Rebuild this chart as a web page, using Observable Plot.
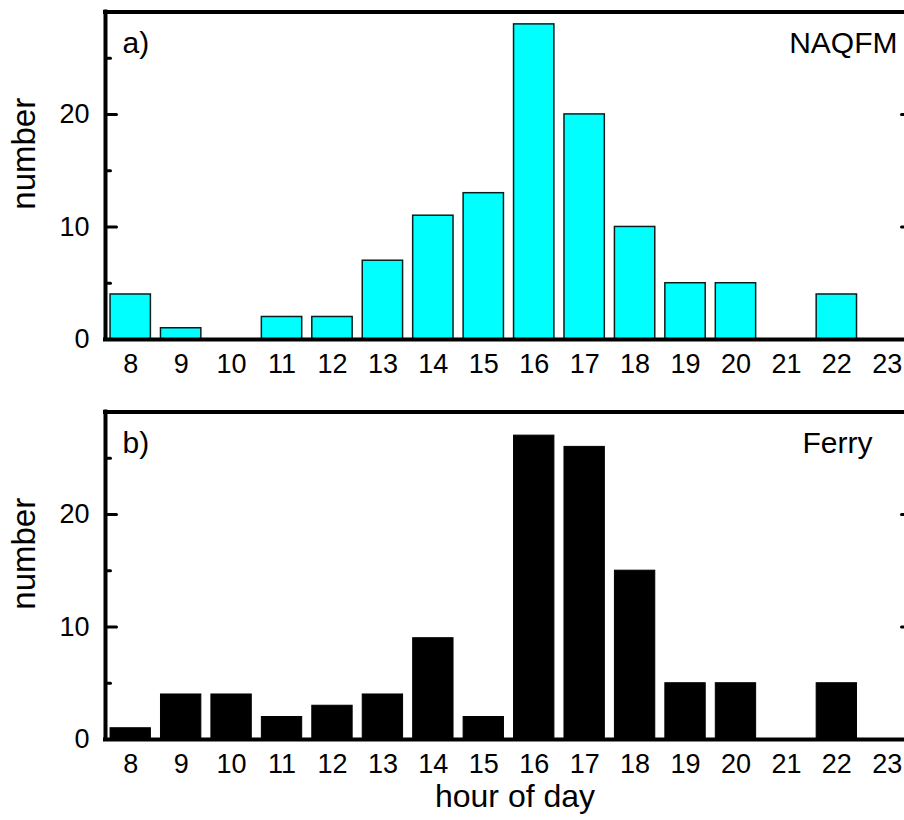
<!DOCTYPE html>
<html>
<head>
<meta charset="utf-8">
<script src="https://cdn.jsdelivr.net/npm/d3@7"></script>
<script src="https://cdn.jsdelivr.net/npm/@observablehq/plot@0.6"></script>
<style>
  html, body { margin: 0; padding: 0; background: white; }
  #chart svg { display: block; }
</style>
</head>
<body>
<div id="chart"></div>
<script>
const hours = [8, 9, 10, 11, 12, 13, 14, 15, 16, 17, 18, 19, 20, 21, 22, 23];
const naqfm = [4, 1, 0, 2, 2, 7, 11, 13, 28, 20, 10, 5, 5, 0, 4, 0];
const ferry = [1, 4, 4, 2, 3, 4, 9, 2, 27, 26, 15, 5, 5, 0, 5, 0];
const yTicks = [0, 10, 20];
const yMinorTicks = [5, 15, 25];
const xDomain = [7.5, 23.5];
const yDomain = [0, 29.1];
const panelA = {tag: "a)", name: "NAQFM"};
const panelB = {tag: "b)", name: "Ferry"};
const yLabel = "number";
const xLabel = "hour of day";

const FONT = "'Liberation Sans', Arial, Helvetica, sans-serif";

// straight-line shape for inward tick marks
const lineShape = {
  draw(context, l) {
    context.moveTo(0, 0);
    context.lineTo(0, -l);
  }
};

function panel(values, opts) {
  const data = hours.map((h, i) => ({hour: h, count: values[i]}));
  const tickStyle = {anchor: "start", stroke: "black", strokeWidth: 3, shape: lineShape};
  const marks = [
    Plot.rectY(data, {
      x1: d => d.hour - 0.4, x2: d => d.hour + 0.4, y: "count",
      fill: opts.fill, stroke: opts.stroke, strokeWidth: opts.strokeWidth
    }),
    // frame
    Plot.ruleY([0, yDomain[1]], {stroke: "black", strokeWidth: 4, strokeLinecap: "square"}),
    Plot.ruleX(xDomain, {stroke: "black", strokeWidth: 4, strokeLinecap: "square"}),
    // inward ticks (left and right)
    Plot.vector(yTicks, {x: xDomain[0], y: d => d, length: 11, rotate: 90, ...tickStyle}),
    Plot.vector(yMinorTicks, {x: xDomain[0], y: d => d, length: 5, rotate: 90, ...tickStyle}),
    Plot.vector(yTicks, {x: xDomain[1], y: d => d, length: 11, rotate: -90, ...tickStyle}),
    Plot.vector(yMinorTicks, {x: xDomain[1], y: d => d, length: 5, rotate: -90, ...tickStyle}),
    Plot.axisY({ticks: yTicks, tickSize: 0, tickPadding: 16, fontSize: 27, label: null, anchor: "left"}),
    Plot.axisX({ticks: hours, tickSize: 0, tickPadding: 14, fontSize: 27, label: null, anchor: "bottom", tickFormat: d => String(d)}),
    Plot.text([yLabel], {frameAnchor: "left", dx: -81, dy: -22, rotate: -90, textAnchor: "middle", lineAnchor: "middle", fontSize: 33, text: d => d}),
    Plot.text([opts.tag], {frameAnchor: "top-left", dx: 17, dy: 31, textAnchor: "start", lineAnchor: "middle", fontSize: 30, text: d => d}),
    Plot.text([opts.name], {frameAnchor: "top-right", dx: opts.nameDx, dy: 31, textAnchor: "end", lineAnchor: "middle", fontSize: 30, text: d => d})
  ];
  if (opts.xlabel) {
    marks.push(Plot.text([opts.xlabel], {frameAnchor: "bottom", dx: 10, dy: 57, textAnchor: "middle", lineAnchor: "middle", fontSize: 32, text: d => d}));
  }
  return Plot.plot({
    width: 904,
    height: opts.height,
    marginLeft: 105,
    marginRight: 0,
    marginTop: 11.5,
    marginBottom: opts.height - 339,
    x: {domain: xDomain, range: [105, 912], axis: null},
    y: {domain: yDomain, range: [339, 11.5], axis: null},
    style: {fontFamily: FONT, fontSize: "27px", color: "black", background: "white", overflow: "hidden"},
    marks
  });
}

const chart = document.getElementById("chart");
chart.append(panel(naqfm, {fill: "#00ffff", stroke: "#0b1f1f", strokeWidth: 1.5, tag: panelA.tag, name: panelA.name, nameDx: -7, height: 400}));
chart.append(panel(ferry, {fill: "black", stroke: "black", strokeWidth: 1, tag: panelB.tag, name: panelB.name, nameDx: -32, height: 420, xlabel: xLabel}));
</script>
</body>
</html>
